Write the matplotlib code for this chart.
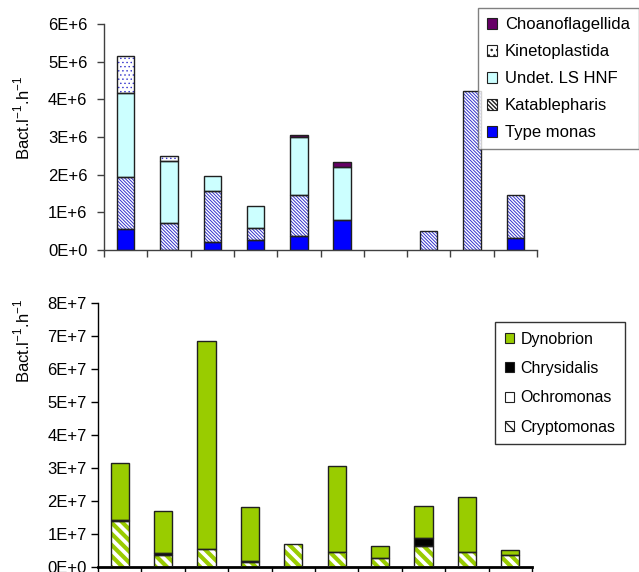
import numpy as np
import matplotlib
matplotlib.use("Agg")
import matplotlib.pyplot as plt
from matplotlib.patches import Patch

plt.rcParams['font.family'] = ['Liberation Sans', 'DejaVu Sans']

# ---------------- data ----------------
stations = list(range(1, 11))

# top panel (Bact. l-1 h-1)
type_monas     = [0.55e6, 0.0,    0.22e6, 0.27e6, 0.36e6, 0.80e6, 0.0, 0.0,    0.0,    0.31e6]
katablepharis  = [1.38e6, 0.71e6, 1.35e6, 0.31e6, 1.09e6, 0.0,    0.0, 0.50e6, 4.22e6, 1.14e6]
undet_ls_hnf   = [2.25e6, 1.66e6, 0.39e6, 0.60e6, 1.55e6, 1.40e6, 0.0, 0.0,    0.0,    0.0]
kinetoplastida = [0.96e6, 0.13e6, 0.0,    0.0,    0.0,    0.0,    0.0, 0.0,    0.0,    0.0]
choanoflag     = [0.0,    0.0,    0.0,    0.0,    0.04e6, 0.13e6, 0.0, 0.0,    0.0,    0.0]

# bottom panel
cryptomonas = [1.38e7, 0.37e7, 0.54e7, 0.14e7, 0.71e7, 0.46e7, 0.28e7, 0.63e7, 0.46e7, 0.37e7]
ochromonas  = [0.0] * 10
chrysidalis = [0.05e7, 0.04e7, 0.0, 0.04e7, 0.0, 0.0, 0.0, 0.24e7, 0.0, 0.0]
dynobrion   = [1.73e7, 1.29e7, 6.30e7, 1.63e7, 0.0, 2.60e7, 0.37e7, 0.97e7, 1.65e7, 0.15e7]

top_yticks = [0, 1e6, 2e6, 3e6, 4e6, 5e6, 6e6]
top_ylabels = ['0E+0', '1E+6', '2E+6', '3E+6', '4E+6', '5E+6', '6E+6']
bot_yticks = [0, 1e7, 2e7, 3e7, 4e7, 5e7, 6e7, 7e7, 8e7]
bot_ylabels = ['0E+0', '1E+7', '2E+7', '3E+7', '4E+7', '5E+7', '6E+7', '7E+7', '8E+7']

ylabel = r'Bact.l$^{\mathregular{-1}}$.h$^{\mathregular{-1}}$'

W, H = 639, 572
fig = plt.figure(figsize=(W / 100, H / 100), dpi=100)


def px_axes(l, t, r, b):
    return fig.add_axes([l / W, 1 - b / H, (r - l) / W, (b - t) / H])


def stacked(ax, series, styles, width=0.4):
    x = np.arange(len(series[0])) + 0.5
    bottom = np.zeros(len(x))
    for vals, st in zip(series, styles):
        vals = np.asarray(vals, dtype=float)
        mask = vals > 0
        if mask.any():
            with plt.rc_context({'hatch.linewidth': st.get('hlw', 1.0)}):
                bars = ax.bar(x[mask], vals[mask], width, bottom=bottom[mask],
                              color=st['fc'], edgecolor=st.get('hc', st['fc']),
                              hatch=st.get('hatch'), linewidth=0, zorder=2)
                for p in bars:
                    if hasattr(p, 'set_hatch_linewidth'):
                        p.set_hatch_linewidth(st.get('hlw', 1.0))
            ax.bar(x[mask], vals[mask], width, bottom=bottom[mask],
                   color='none', edgecolor='#202020', linewidth=1.0, zorder=3)
        bottom += vals
    return x


def legend_handles(styles, labels):
    hs = []
    for st, lab in zip(styles, labels):
        lw = st.get('hlw', 1.0) * 0.6
        with plt.rc_context({'hatch.linewidth': lw}):
            h = Patch(facecolor=st['fc'], edgecolor='#202020', hatch=st.get('lhatch', st.get('hatch')),
                      linewidth=0.8, label=lab)
            if hasattr(h, 'set_hatch_linewidth'):
                h.set_hatch_linewidth(lw)
        hs.append(h)
    return hs


def style_axes(ax, yticks, ylabels, ymax, spine_col, xlw, pad):
    ax.set_xlim(0, 10)
    ax.set_ylim(0, ymax)
    for s in ['top', 'right']:
        ax.spines[s].set_visible(False)
    ax.spines['left'].set_color(spine_col)
    ax.spines['bottom'].set_color(spine_col)
    ax.spines['bottom'].set_linewidth(xlw)
    ax.spines['left'].set_linewidth(1.0)
    ax.set_xticks(np.arange(0, 11))
    ax.set_xticklabels([])
    ax.set_yticks(yticks)
    ax.set_yticklabels(ylabels, fontsize=12)
    ax.tick_params(axis='both', direction='out', length=5, width=1.0,
                   color=spine_col)
    ax.tick_params(axis='y', pad=pad)
    ax.set_facecolor('none')


# ---------------- top panel ----------------
ax1 = px_axes(104, 24, 537, 250)
top_series = [type_monas, katablepharis, undet_ls_hnf, kinetoplastida, choanoflag]
top_labels = ['Type monas', 'Katablepharis', 'Undet. LS HNF', 'Kinetoplastida', 'Choanoflagellida']
top_styles = [
    dict(fc='#0000FF'),
    dict(fc='white', hc='#3333CC', hatch='\\' * 10, lhatch='\\' * 8, hlw=0.7),
    dict(fc='#CCFFFF'),
    dict(fc='white', hc='#3333CC', hatch='....', lhatch='...', hlw=0.5),
    dict(fc='#660066'),
]
stacked(ax1, top_series, top_styles)
style_axes(ax1, top_yticks, top_ylabels, 6e6, '#404040', 1.0, 7)
hs = legend_handles(top_styles, top_labels)[::-1]
leg1 = fig.legend(handles=hs, loc='upper left', bbox_to_anchor=(478 / W, 1 - 8 / H),
                  fontsize=12, frameon=True, fancybox=False, edgecolor='#606060',
                  handlelength=0.6, handleheight=0.6, handletextpad=0.45,
                  labelspacing=0.72, borderpad=0.55, borderaxespad=0)
leg1.get_frame().set_linewidth(1.0)
fig.text(22 / W, 1 - 118 / H, ylabel, rotation=90, ha='center', va='center', fontsize=12)

# ---------------- bottom panel ----------------
ax2 = px_axes(98, 303, 532, 567)
bot_series = [cryptomonas, ochromonas, chrysidalis, dynobrion]
bot_labels = ['Cryptomonas', 'Ochromonas', 'Chrysidalis', 'Dynobrion']
bot_styles = [
    dict(fc='white', hc='#99CC00', hatch='\\\\\\', lhatch='\\\\', hlw=3.0),
    dict(fc='white'),
    dict(fc='black'),
    dict(fc='#99CC00'),
]
stacked(ax2, bot_series, bot_styles, width=0.42)
style_axes(ax2, bot_yticks, bot_ylabels, 8e7, 'black', 2.0, 3)
hs2 = legend_handles(bot_styles, bot_labels)[::-1]
leg2 = fig.legend(handles=hs2, loc='upper left', bbox_to_anchor=(495 / W, 1 - 322 / H),
                  fontsize=11.5, frameon=True, fancybox=False, edgecolor='black',
                  handlelength=0.6, handleheight=0.6, handletextpad=0.4,
                  labelspacing=0.9, borderpad=0.6, borderaxespad=0)
leg2.get_frame().set_linewidth(1.0)
fig.text(22 / W, 1 - 341 / H, ylabel, rotation=90, ha='center', va='center', fontsize=12)

fig.savefig('out.png', dpi=100)
